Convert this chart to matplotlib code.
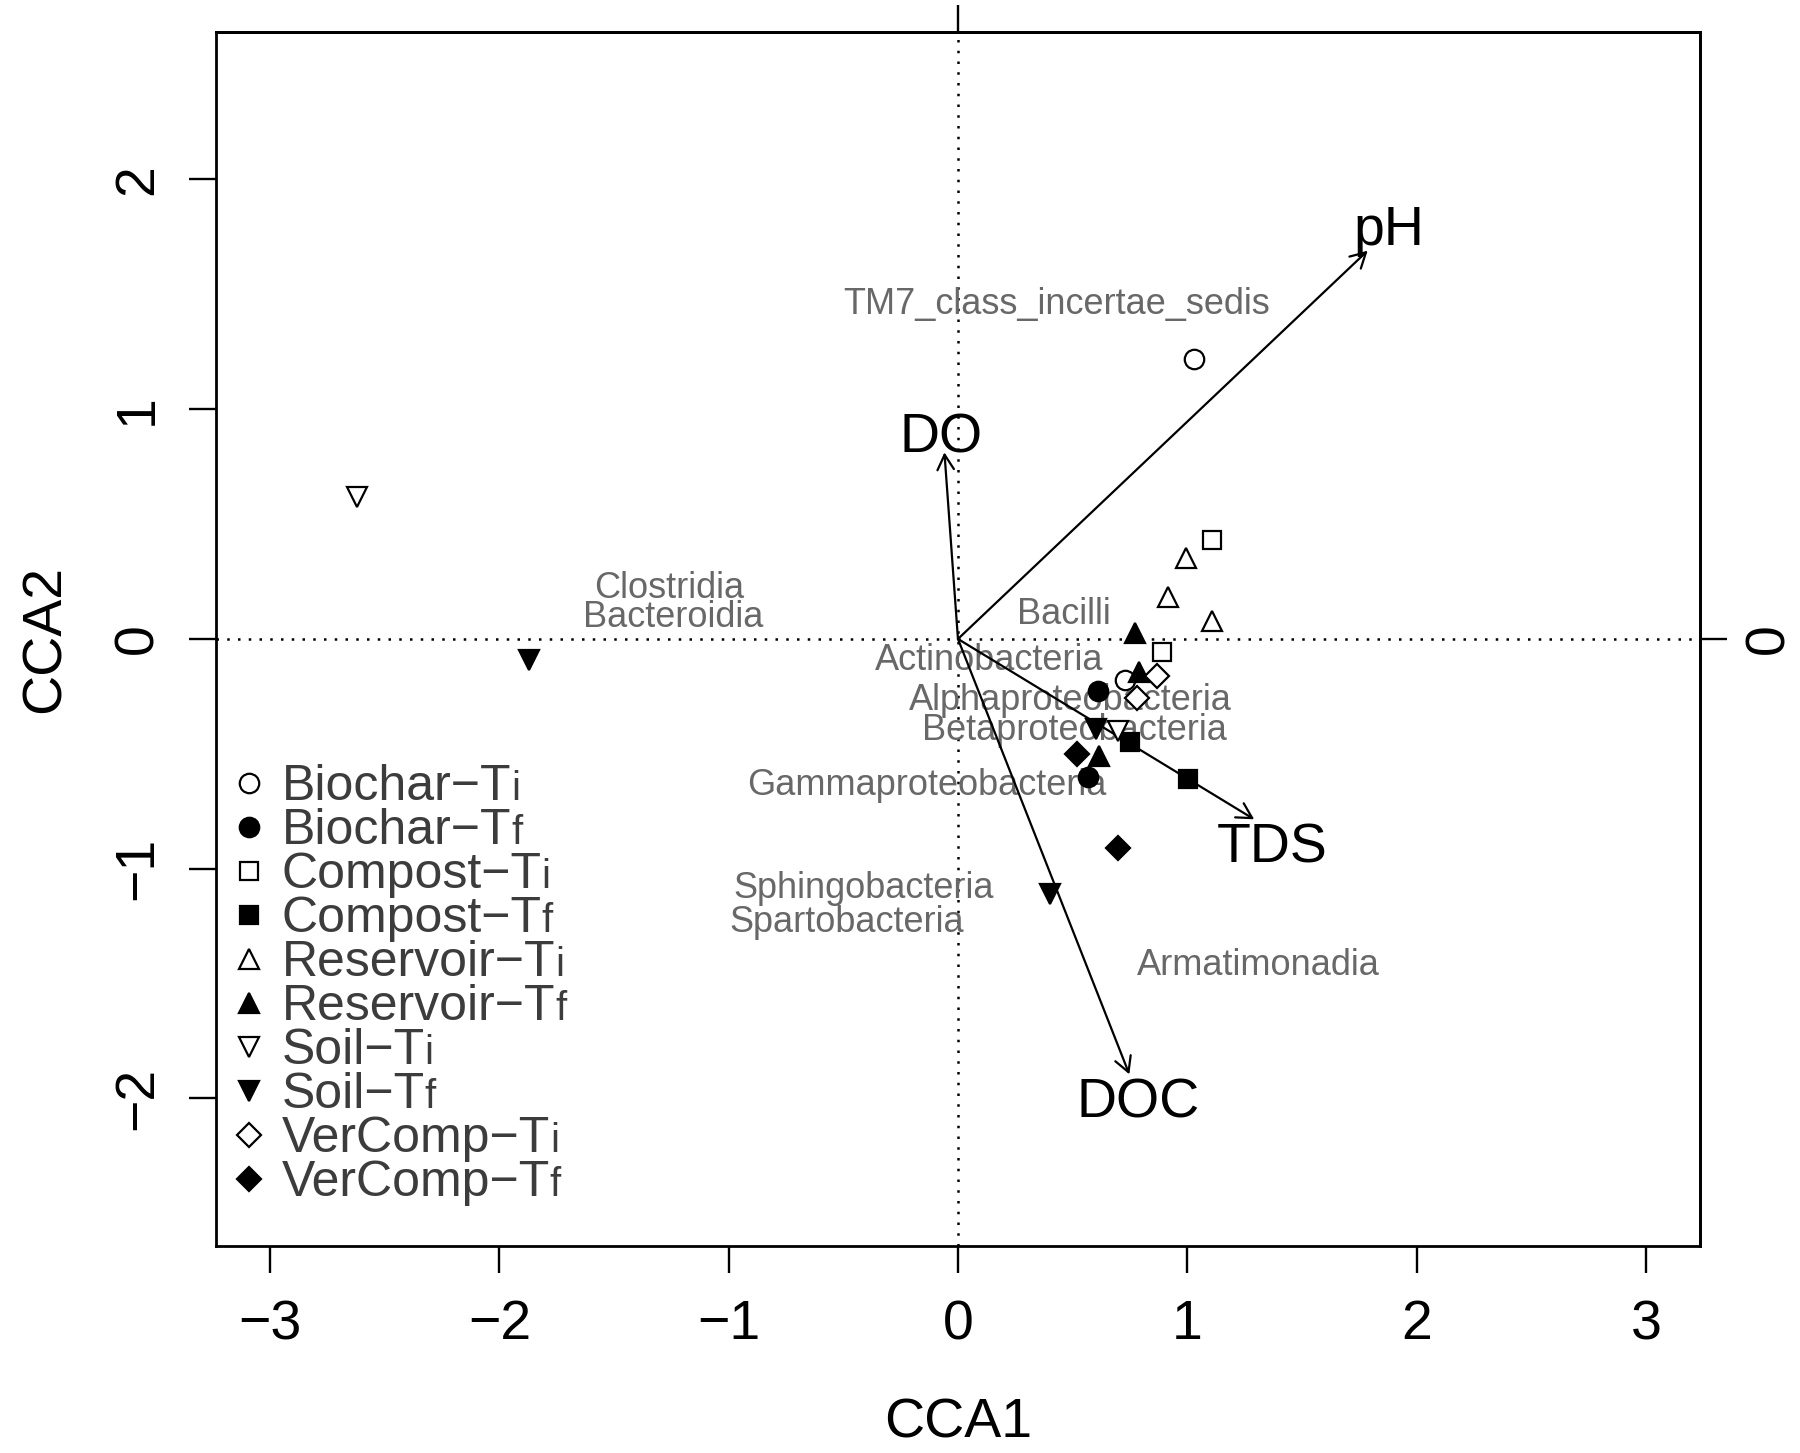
import matplotlib
matplotlib.use('Agg')
import matplotlib.pyplot as plt
from matplotlib.offsetbox import TextArea, HPacker, AnnotationBbox

plt.rcParams['font.family'] = ['Liberation Sans', 'DejaVu Sans']
plt.rcParams['axes.unicode_minus'] = True

# site scores, one list per treatment
group_main = ['Biochar\u2212T', 'Biochar\u2212T', 'Compost\u2212T', 'Compost\u2212T',
              'Reservoir\u2212T', 'Reservoir\u2212T', 'Soil\u2212T', 'Soil\u2212T',
              'VerComp\u2212T', 'VerComp\u2212T']
group_sub = ['i', 'f', 'i', 'f', 'i', 'f', 'i', 'f', 'i', 'f']
site_x = [[1.03, 0.73], [0.61, 0.565], [1.11, 0.89], [0.75, 1.005],
          [0.995, 0.915, 1.108], [0.773, 0.79, 0.617], [-2.62, 0.70],
          [-1.87, 0.40, 0.60], [0.87, 0.78], [0.52, 0.70]]
site_y = [[1.22, -0.18], [-0.225, -0.60], [0.43, -0.058], [-0.45, -0.61],
          [0.353, 0.183, 0.077], [0.028, -0.146, -0.51], [0.62, -0.40],
          [-0.09, -1.11, -0.39], [-0.16, -0.255], [-0.50, -0.91]]

# species (class) labels
species = ['TM7_class_incertae_sedis', 'Clostridia', 'Bacteroidia', 'Bacilli',
           'Actinobacteria', 'Alphaproteobacteria', 'Betaproteobacteria',
           'Gammaproteobacteria', 'Sphingobacteria', 'Spartobacteria', 'Armatimonadia']
species_x = [0.43, -1.26, -1.24, 0.46, 0.135, 0.49, 0.51, -0.135, -0.41, -0.485, 1.31]
species_y = [1.475, 0.235, 0.11, 0.125, -0.075, -0.25, -0.38, -0.62, -1.07, -1.215, -1.405]

# environmental vectors
env = ['pH', 'DO', 'TDS', 'DOC']
env_x = [1.787, -0.059, 1.292, 0.7475]
env_y = [1.69, 0.812, -0.785, -1.895]
env_lab_x = [1.88, -0.074, 1.372, 0.784]
env_lab_y = [1.80, 0.899, -0.885, -1.996]

# marker style per treatment (open / filled)
mk = ['o', 'o', 's', 's', '^', '^', 'v', 'v', 'D', 'D']
filled = [False, True, False, True, False, True, False, True, False, True]
msize = [14, 14, 13.5, 13.5, 15, 15, 15, 15, 12, 12]

fig = plt.figure(figsize=(18, 14.53), dpi=100)
ax = fig.add_axes([0.12, 0.1425, 0.8244, 0.8355])
ax.set_xlim(-3.236, 3.236)
ax.set_ylim(-2.642, 2.642)

ax.axhline(0, color='black', lw=1.8, ls=(0, (1, 3.3)), zorder=1)
ax.axvline(0, color='black', lw=1.8, ls=(0, (1, 3.3)), zorder=1)

for name, x, y in zip(species, species_x, species_y):
    ax.text(x, y, name, ha='center', va='center_baseline', fontsize=26, color='#686868', zorder=2)

for name, x, y, lx, ly in zip(env, env_x, env_y, env_lab_x, env_lab_y):
    ax.annotate('', xy=(x, y), xytext=(0, 0),
                arrowprops=dict(arrowstyle='->,head_length=0.6,head_width=0.33',
                                mutation_scale=18, lw=1.6, color='black',
                                shrinkA=0, shrinkB=0), zorder=3)
    ax.text(lx, ly, name, ha='center', va='center_baseline', fontsize=40, color='black', zorder=3)

for i in range(len(group_main)):
    fc = 'black' if filled[i] else 'white'
    ax.plot(site_x[i], site_y[i], ls='none', marker=mk[i], ms=msize[i],
            mfc=fc, mec='black', mew=1.6, zorder=4)

# legend, drawn by hand so the i / f suffix sits small on the baseline
leg_x = -3.093
leg_tx = -2.95
leg_y0 = -0.625
leg_step = 0.1916
for i in range(len(group_main)):
    y = leg_y0 - i * leg_step
    fc = 'black' if filled[i] else 'white'
    ax.plot([leg_x], [y], ls='none', marker=mk[i], ms=msize[i],
            mfc=fc, mec='black', mew=1.6, zorder=4)
    box = HPacker(children=[TextArea(group_main[i], textprops=dict(fontsize=36, color='#3c3c3c')),
                            TextArea(group_sub[i], textprops=dict(fontsize=29, color='#3c3c3c'))],
                  align='baseline', pad=0, sep=0)
    ab = AnnotationBbox(box, (leg_tx, y), xycoords='data', box_alignment=(0, 0.6),
                        frameon=False, pad=0)
    ax.add_artist(ab)

for s in ax.spines.values():
    s.set_linewidth(2)

ax.set_xticks([-3, -2, -1, 0, 1, 2, 3])
ax.set_yticks([-2, -1, 0, 1, 2])
ax.tick_params(direction='out', length=19.5, width=1.7, labelsize=40)
ax.tick_params(axis='x', pad=19)
ax.tick_params(axis='y', pad=18, labelrotation=90)
for lbl in ax.get_yticklabels():
    lbl.set_va('center')

top = ax.secondary_xaxis('top')
top.set_xticks([0])
top.set_xticklabels([''])
top.tick_params(direction='out', length=19.5, width=1.7)
top.spines['top'].set_linewidth(2)

right = ax.secondary_yaxis('right')
right.set_yticks([0])
right.set_yticklabels(['0'])
right.tick_params(direction='out', length=19.5, width=1.7, labelsize=40, pad=12, labelrotation=90)
right.spines['right'].set_linewidth(2)
for lbl in right.get_yticklabels():
    lbl.set_va('center')

ax.set_xlabel('CCA1', fontsize=40)
ax.set_ylabel('CCA2', fontsize=40)
ax.xaxis.label.set_va('center')
ax.yaxis.label.set_va('center')
ax.yaxis.label.set_ha('center')
ax.xaxis.set_label_coords(0.5, -0.1466)
ax.yaxis.set_label_coords(-0.1146, 0.5)

fig.savefig('out.png', dpi=100)
